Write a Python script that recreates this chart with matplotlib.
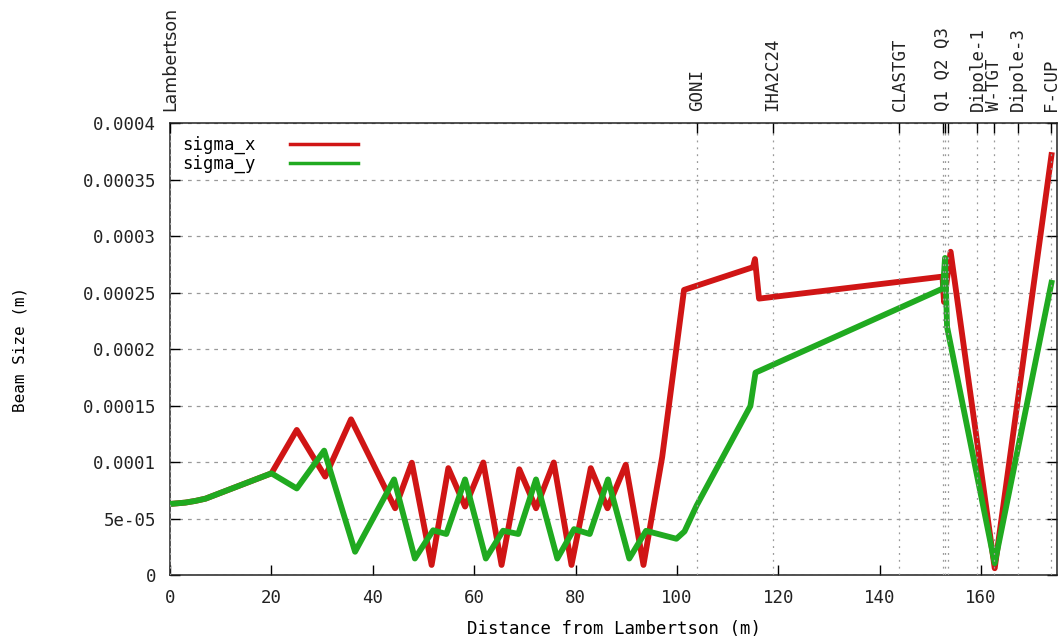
"""
Beam size along the beamline (sigma_x / sigma_y) with element markers on top.
Saves out.png
"""

import matplotlib
matplotlib.use("Agg")
import matplotlib.pyplot as plt

# ---------------------------------------------------------------------------
# Data
# ---------------------------------------------------------------------------
dist_x = [0, 3, 5, 7, 20, 25.0, 30.6, 35.7, 44.4, 47.7, 51.6, 54.9, 58.2,
          61.8, 65.4, 68.9, 72.2, 75.7, 79.2, 83.0, 86.3, 89.9, 93.4, 97.1,
          101.4, 115.0, 115.4, 116.2, 152.4, 152.7, 154.0, 162.7, 173.9]
sigma_x = [6.33e-5, 6.45e-5, 6.6e-5, 6.8e-5, 9.04e-5, 1.288e-4, 8.75e-5,
           1.382e-4, 5.95e-5, 9.98e-5, 0.93e-5, 9.5e-5, 6.1e-5, 1.0e-4,
           0.93e-5, 9.4e-5, 5.95e-5, 1.0e-4, 0.93e-5, 9.5e-5, 5.95e-5,
           9.8e-5, 0.93e-5, 1.05e-4, 2.527e-4, 2.728e-4, 2.80e-4, 2.45e-4,
           2.645e-4, 2.42e-4, 2.865e-4, 0.64e-5, 3.72e-4]

dist_y = [0, 3, 5, 7, 20, 25.0, 30.4, 36.5, 44.2, 48.3, 51.9, 54.5, 58.2,
          62.3, 65.7, 68.7, 72.2, 76.4, 79.7, 82.8, 86.4, 90.6, 93.9, 99.9,
          101.5, 103.9, 114.5, 115.5, 152.5, 152.9, 153.3, 162.7, 173.9]
sigma_y = [6.33e-5, 6.45e-5, 6.6e-5, 6.8e-5, 9.04e-5, 7.7e-5, 1.105e-4,
           2.1e-5, 8.5e-5, 1.5e-5, 4.0e-5, 3.67e-5, 8.5e-5, 1.5e-5, 3.96e-5,
           3.67e-5, 8.5e-5, 1.5e-5, 4.1e-5, 3.67e-5, 8.5e-5, 1.5e-5, 3.95e-5,
           3.25e-5, 3.9e-5, 6.2e-5, 1.5e-4, 1.795e-4, 2.54e-4, 2.81e-4,
           2.2e-4, 1.08e-5, 2.59e-4]

# beamline elements (top axis)
elem_pos = [0, 103.9, 118.9, 143.9, 152.4, 152.9, 153.4, 159.3, 162.6, 167.2, 173.8]
elem_names = ["Lambertson", "GONI", "IHA2C24", "CLASTGT", "Q1 Q2 Q3", "", "",
              "Dipole-1", "W-TGT", "Dipole-3", "F-CUP"]

y_ticks = [0, 5e-5, 1e-4, 1.5e-4, 2e-4, 2.5e-4, 3e-4, 3.5e-4, 4e-4]
y_tick_labels = ["0", "5e-05", "0.0001", "0.00015", "0.0002", "0.00025",
                 "0.0003", "0.00035", "0.0004"]
x_ticks = [0, 20, 40, 60, 80, 100, 120, 140, 160]

# ---------------------------------------------------------------------------
# Plot
# ---------------------------------------------------------------------------
mono = "DejaVu Sans Mono"
fs = 12.5

fig = plt.figure(figsize=(10.63, 6.43), dpi=100)
ax = fig.add_axes([0.160, 0.105, 0.8344, 0.703])

ax.plot(dist_x, sigma_x, color="#d01515", lw=4.2, label="sigma_x", zorder=3)
ax.plot(dist_y, sigma_y, color="#20aa20", lw=4.2, label="sigma_y", zorder=4)

ax.set_xlim(0, 175)
ax.set_ylim(0, 0.0004)

ax.set_xticks(x_ticks)
ax.set_xticklabels([str(t) for t in x_ticks], family=mono, fontsize=fs, color="#222222")
ax.set_yticks(y_ticks)
ax.set_yticklabels(y_tick_labels, family=mono, fontsize=fs, color="#222222")
ax.tick_params(axis="both", direction="in", length=7, width=1)
ax.tick_params(axis="y", right=True, pad=10)
ax.tick_params(axis="x", top=False, pad=10)

ax.yaxis.grid(True, linestyle=(0, (3, 4)), color="#999999", lw=0.9)
ax.set_xlabel("Distance from Lambertson (m)", family=mono, fontsize=fs, labelpad=9)
ax.set_ylabel("Beam Size (m)", family=mono, fontsize=fs - 1, labelpad=40)

for s in ax.spines.values():
    s.set_linewidth(1.1)
    s.set_color("#222222")

# top axis with element names
ax2 = ax.twiny()
ax2.set_xlim(ax.get_xlim())
ax2.set_xticks(elem_pos)
ax2.set_xticklabels(elem_names, rotation=90, family=mono, fontsize=fs, color="#222222")
ax2.get_xticklabels()[0].set_family("DejaVu Sans")
ax2.tick_params(axis="x", direction="in", length=7, width=1, pad=9)
ax2.xaxis.grid(True, linestyle=(0, (1.5, 4)), color="#999999", lw=0.9)
for s in ax2.spines.values():
    s.set_visible(False)

leg = ax.legend(loc="upper left", frameon=False, markerfirst=False,
                prop={"family": mono, "size": fs}, handlelength=3.9,
                handletextpad=2.0, labelspacing=0.05, borderaxespad=0.3)
for line in leg.get_lines():
    line.set_linewidth(2.5)

plt.savefig("out.png", dpi=100)
plt.close(fig)
